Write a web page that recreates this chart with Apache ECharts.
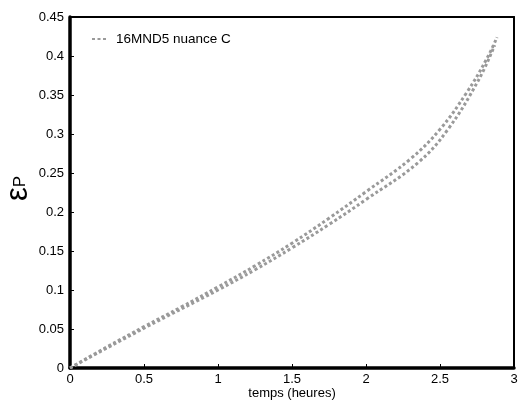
<!DOCTYPE html>
<html><head><meta charset="utf-8">
<script src="https://cdn.jsdelivr.net/npm/echarts@6/dist/echarts.min.js"></script>
<style>html,body{margin:0;padding:0;background:#fff}#c{width:518px;height:403px}</style>
</head><body><div id="c"></div>
<script>
const seriesName = '16MND5 nuance C';
const tA = [0, 0.25, 0.5, 0.75, 1.0, 1.25, 1.5, 1.75, 2.0, 2.3, 2.5, 2.68, 2.815, 2.885];
const epsA = [0, 0.027, 0.053, 0.078, 0.104, 0.131, 0.160, 0.192, 0.226, 0.268, 0.306, 0.353, 0.396, 0.424];
const tB = [0, 0.5, 1.0, 1.25, 1.5, 1.75, 2.0, 2.35, 2.55, 2.76, 2.87];
const epsB = [0, 0.051, 0.100, 0.126, 0.154, 0.184, 0.216, 0.263, 0.305, 0.369, 0.414];
const xTicks = [0, 0.5, 1, 1.5, 2, 2.5, 3];
const yTicks = [0, 0.05, 0.1, 0.15, 0.2, 0.25, 0.3, 0.35, 0.4, 0.45];

const font = 'Liberation Sans, Arial, Helvetica, sans-serif';
const lineStyle = {color: '#9a9a9a', width: 3, type: [3, 2.5]};
const chart = echarts.init(document.getElementById('c'));
chart.setOption({
  animation: false,
  textStyle: {fontFamily: font},
  grid: {left: 70, right: 4, top: 17, bottom: 35, containLabel: false, outerBoundsMode: 'none'},
  legend: {
    data: [seriesName], left: 91, top: 32, padding: 0, itemWidth: 16, itemHeight: 10, itemGap: 6,
    itemStyle: {opacity: 0},
    textStyle: {fontSize: 13.5, color: '#000', fontFamily: font, padding: [0, 0, 0, 3]}
  },
  xAxis: [{
    type: 'value', min: 0, max: 3, interval: 0.5,
    name: 'temps (heures)', nameLocation: 'middle', nameGap: 19, nameMoveOverlap: false,
    nameTextStyle: {fontSize: 13, color: '#000'},
    axisLine: {show: true, onZero: false, lineStyle: {color: '#000', width: 3.5}},
    axisTick: {show: true, inside: true, length: 4, lineStyle: {color: '#000', width: 1}},
    axisLabel: {fontSize: 13, color: '#000', margin: 5,
      formatter: v => xTicks.includes(v) ? String(v) : ''},
    splitLine: {show: false}
  }, {
    type: 'value', position: 'top', min: 0, max: 3,
    axisLine: {show: true, onZero: false, lineStyle: {color: '#000', width: 2}},
    axisTick: {show: false}, axisLabel: {show: false}, splitLine: {show: false}
  }],
  yAxis: [{
    type: 'value', min: 0, max: 0.45, interval: 0.05,
    name: '{e|ε}{p|P}', nameLocation: 'middle', nameGap: 36, nameRotate: 90, nameMoveOverlap: false,
    nameTextStyle: {rich: {
      e: {fontSize: 31, color: '#000', fontFamily: font},
      p: {fontSize: 17, color: '#000', fontFamily: font, verticalAlign: 'bottom', padding: [0, 0, 5, 0]}
    }, padding: [0, 0, 0, 8]},
    axisLine: {show: true, onZero: false, lineStyle: {color: '#000', width: 3.5}},
    axisTick: {show: true, inside: true, length: 4, lineStyle: {color: '#000', width: 1}},
    axisLabel: {fontSize: 13, color: '#000', margin: 6,
      formatter: v => { const r = Math.round(v * 100) / 100; return yTicks.includes(r) ? String(r) : ''; }},
    splitLine: {show: false}
  }, {
    type: 'value', position: 'right', min: 0, max: 0.45,
    axisLine: {show: true, onZero: false, lineStyle: {color: '#000', width: 2}},
    axisTick: {show: false}, axisLabel: {show: false}, splitLine: {show: false}
  }],
  series: [{
    name: seriesName, type: 'line', smooth: 0.4, symbol: 'none',
    data: tA.map((t, i) => [t, epsA[i]]), lineStyle: lineStyle, itemStyle: {color: '#9a9a9a'}
  }, {
    name: seriesName, type: 'line', smooth: 0.4, symbol: 'none',
    data: tB.map((t, i) => [t, epsB[i]]), lineStyle: lineStyle, itemStyle: {color: '#9a9a9a'}
  }]
});
</script></body></html>
